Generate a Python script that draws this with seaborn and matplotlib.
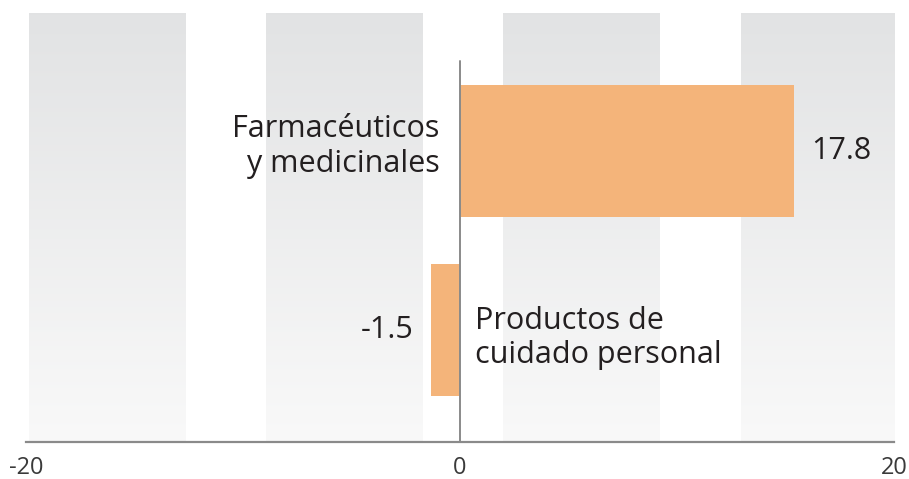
import numpy as np
import pandas as pd
import matplotlib
matplotlib.use("Agg")
import matplotlib.pyplot as plt
import seaborn as sns

# data
categories = ["Farmacéuticos\ny medicinales", "Productos de\ncuidado personal"]
bar_lengths = [15.4, -1.35]
value_labels = ["17.8", "-1.5"]
tick_values = [-20, 0, 20]

df = pd.DataFrame({"categoria": categories, "valor": bar_lengths})

sns.set_style("white")
plt.rcParams["font.family"] = ["Open Sans", "DejaVu Sans"]

text_color = "#231f20"
bar_color = "#f4b47a"
axis_color = "#8a8a8a"

fig = plt.figure(figsize=(9.09, 4.79), dpi=100)
ax = fig.add_axes([26 / 909, 37 / 479, 868 / 909, 429 / 479])

# background gradient bands
grad = np.linspace(0, 1, 256).reshape(-1, 1)
top_c = np.array([0.886, 0.890, 0.894])
bot_c = np.array([0.976, 0.976, 0.976])
img = top_c[None, None, :] * (1 - grad[:, :, None]) + bot_c[None, None, :] * grad[:, :, None]
band_start, band_w, band_step = -19.86, 7.19, 10.93
for i in range(4):
    x0 = band_start + i * band_step
    ax.imshow(img, extent=[x0, x0 + band_w, 1.626, -0.771], aspect="auto", zorder=0)

sns.barplot(data=df, x="valor", y="categoria", orient="h", color=bar_color,
            width=0.737, saturation=1, linewidth=0, edgecolor="none", ax=ax, zorder=2)

ax.set_xlim(-20, 20)
ax.set_ylim(1.626, -0.771)

# zero line
ax.plot([0, 0], [-0.503, 1.626], color=axis_color, lw=1.4, zorder=3, clip_on=False)

for s in ["top", "right", "left"]:
    ax.spines[s].set_visible(False)
ax.spines["bottom"].set_color(axis_color)
ax.spines["bottom"].set_linewidth(1.6)
ax.set_xticks(tick_values)
ax.set_xticklabels([str(t) for t in tick_values])
ax.tick_params(axis="x", colors=axis_color, length=6, width=1.4, labelsize=17,
               labelcolor="#3a3a3a", pad=4)
ax.xaxis.get_major_ticks()[1].tick1line.set_visible(False)
ax.tick_params(axis="y", left=False, labelleft=False)
ax.set_xlabel("")
ax.set_ylabel("")

ax.text(-0.95, -0.025, categories[0], ha="right", va="center", fontsize=22,
        color=text_color, linespacing=1.25, zorder=4)
ax.text(0.7, 1.045, categories[1], ha="left", va="center", fontsize=22,
        color=text_color, linespacing=1.2, zorder=4)
ax.text(bar_lengths[0] + 0.8, 0.0, value_labels[0], ha="left", va="center",
        fontsize=22, color=text_color, zorder=4)
ax.text(bar_lengths[1] - 0.8, 1.0, value_labels[1], ha="right", va="center",
        fontsize=22, color=text_color, zorder=4)

fig.savefig("out.png", dpi=100)
